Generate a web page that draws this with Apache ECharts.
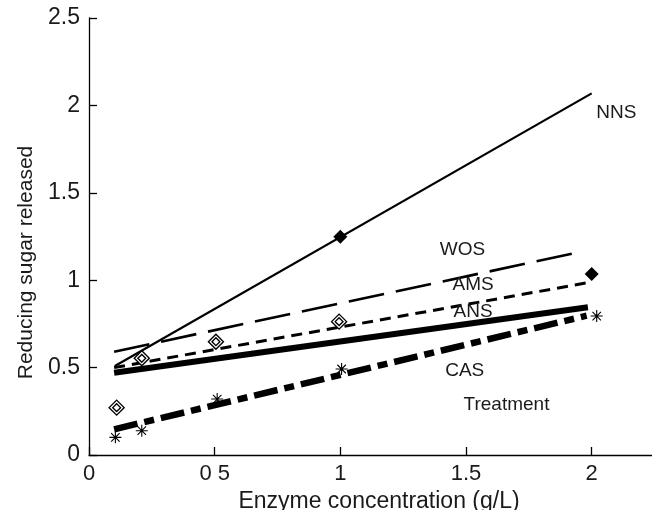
<!DOCTYPE html>
<html>
<head>
<meta charset="utf-8">
<script src="https://cdn.jsdelivr.net/npm/echarts@6/dist/echarts.min.js"></script>
<style>
html,body{margin:0;padding:0;background:#fff;}
#chart{width:652px;height:510px;}
</style>
</head>
<body>
<div id="chart"></div>
<script>
// ---- data ----
const xTicks = [0, 0.5, 1, 1.5, 2];
const xTickLabels = ['0', '0 5', '1', '1.5', '2'];
const yTicks = [0, 0.5, 1, 1.5, 2, 2.5];

// fitted trend lines (start / end points)
const nnsLine = [[0.103, 0.509], [2.0, 2.069]];
const wosLine = [[0.10, 0.591], [1.95, 1.160]];
const amsLine = [[0.10, 0.500], [1.985, 0.986]];
const ansLine = [[0.10, 0.471], [1.985, 0.845]];
const casLine = [[0.10, 0.147], [1.98, 0.797]];

// measured points
const openDiamondX = [0.11, 0.21, 0.505, 0.995];
const openDiamondY = [0.271, 0.553, 0.648, 0.763];
const filledDiamondX = [1.0, 2.0];
const filledDiamondY = [1.249, 1.035];
const asteriskX = [0.105, 0.21, 0.51, 1.005, 2.02];
const asteriskY = [0.101, 0.139, 0.320, 0.492, 0.795];

// text annotations
const labelNames = ['NNS', 'WOS', 'AMS', 'ANS', 'CAS', 'Treatment'];
const labelX = [2.098, 1.486, 1.528, 1.528, 1.495, 1.661];
const labelY = [1.958, 1.173, 0.972, 0.818, 0.480, 0.290];

const zip = (xs, ys) => xs.map((x, i) => [x, ys[i]]);

const FONT = '"Liberation Sans", Arial, sans-serif';
const TXT = '#1a1a1a';

function lineSeries(name, data, width, type) {
  return {
    name: name, type: 'line', data: data, showSymbol: false, symbol: 'none',
    silent: true, z: 2,
    lineStyle: { color: '#000', width: width, type: type, cap: 'butt' }
  };
}

const chart = echarts.init(document.getElementById('chart'), null, { renderer: 'canvas' });
chart.setOption({
  animation: false,
  backgroundColor: '#fff',
  grid: { left: 89, right: 0, top: 18, bottom: 55, containLabel: false, outerBoundsMode: 'none' },
  xAxis: {
    type: 'value', min: 0, max: 2.24,
    name: 'Enzyme concentration (g/L)', nameLocation: 'middle', nameGap: 32,
    nameTextStyle: { fontFamily: FONT, fontSize: 23, color: TXT, padding: [0, 0, 0, 17] },
    axisLine: { show: true, onZero: false, lineStyle: { color: '#000', width: 1.3 } },
    axisTick: { show: true, inside: true, length: 8, customValues: xTicks, lineStyle: { color: '#000', width: 1.3 } },
    axisLabel: {
      customValues: xTicks, margin: 8, fontFamily: FONT, fontSize: 22, color: TXT,
      formatter: v => { const i = xTicks.indexOf(v); return i >= 0 ? xTickLabels[i] : ''; }
    },
    splitLine: { show: false }
  },
  yAxis: {
    type: 'value', min: 0, max: 2.5, interval: 0.5,
    name: 'Reducing sugar released', nameLocation: 'middle', nameGap: 52,
    nameTextStyle: { fontFamily: FONT, fontSize: 21, color: TXT, padding: [0, 52, 0, 0] },
    axisLine: { show: true, onZero: false, lineStyle: { color: '#000', width: 1.3 } },
    axisTick: { show: true, inside: true, length: 8, lineStyle: { color: '#000', width: 1.3 } },
    axisLabel: {
      margin: 9, fontFamily: FONT, fontSize: 23, color: TXT,
      formatter: v => String(v)
    },
    splitLine: { show: false }
  },
  series: [
    lineSeries('NNS', nnsLine, 2.2, 'solid'),
    lineSeries('WOS', wosLine, 2.6, [36, 12]),
    lineSeries('AMS', amsLine, 3, [11, 7]),
    lineSeries('ANS', ansLine, 6, 'solid'),
    lineSeries('CAS', casLine, 6.5, [24, 7, 10, 7]),
    {
      name: 'openDiamond', type: 'scatter', z: 5, silent: true,
      data: zip(openDiamondX, openDiamondY),
      symbol: 'path://M0,-10L10,0L0,10L-10,0Z M0,-5.2L5.2,0L0,5.2L-5.2,0Z',
      symbolSize: 15,
      itemStyle: { color: '#fff', borderColor: '#000', borderWidth: 1.4, opacity: 1 }
    },
    {
      name: 'filledDiamond', type: 'scatter', z: 5, silent: true,
      data: zip(filledDiamondX, filledDiamondY),
      symbol: 'diamond', symbolSize: 14,
      itemStyle: { color: '#000', opacity: 1 }
    },
    {
      name: 'asterisk', type: 'scatter', z: 5, silent: true,
      data: zip(asteriskX, asteriskY),
      symbol: 'path://M0,-6L0,6M-6,0L6,0M-4.24,-4.24L4.24,4.24M-4.24,4.24L4.24,-4.24',
      symbolSize: 12,
      itemStyle: { color: 'rgba(0,0,0,0)', borderColor: '#000', borderWidth: 1.1, opacity: 1 }
    },
    {
      name: 'labels', type: 'scatter', z: 6, silent: true,
      symbolSize: 0,
      itemStyle: { opacity: 1 },
      data: labelNames.map((n, i) => ({ name: n, value: [labelX[i], labelY[i]] })),
      label: {
        show: true, position: 'inside', formatter: p => p.name,
        fontFamily: FONT, fontSize: 19, color: TXT, textBorderWidth: 0
      }
    }
  ]
});
</script>
</body>
</html>
